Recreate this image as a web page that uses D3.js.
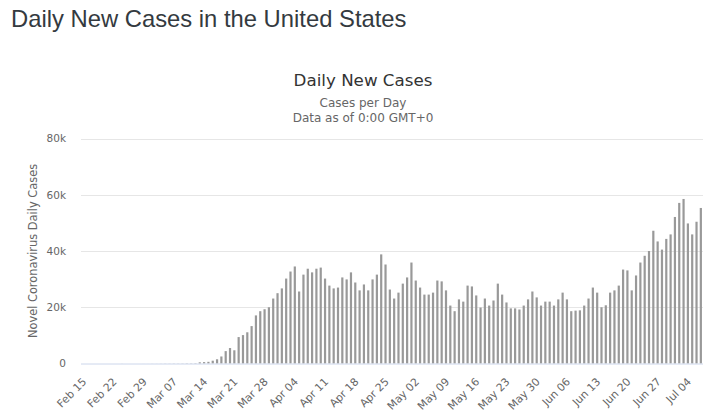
<!DOCTYPE html>
<html>
<head>
<meta charset="utf-8">
<script src="https://cdn.jsdelivr.net/npm/d3@7"></script>
<style>
  html, body { margin: 0; padding: 0; background: #fff; }
  svg { display: block; }
</style>
</head>
<body>
<svg id="chart" width="720" height="418"></svg>
<script>
// ---- data ----
const startDate = "2020-02-15";
const endDate = "2020-07-07";
const dailyCases = [
  0,0,0,0,0,0,1,0,0,18,0,0,0,0,
  8,
  6,23,20,31,48,45,60,56,65,96,92,122,
  420,500,600,1000,
  1500,2500,4400,5500,4700,9400,10100,11100,13300,17100,
  18600,19300,20000,23100,25000,26700,30200,32700,34500,25600,
  31600,33700,32400,33700,34100,30200,27700,26700,27000,30600,
  29900,32400,28800,26000,28100,26000,29900,31600,38800,35200,
  26300,23100,25200,28400,30600,35900,29500,27000,24500,24500,
  25200,29500,29200,26000,20600,18600,22800,22000,27700,27400,
  24200,19900,23100,20600,22400,28400,24500,21700,19600,19600,
  19200,20600,22800,25600,23500,20600,22000,22000,20600,22800,
  25200,22800,18600,18800,18900,20600,23100,27000,25200,
  20000,20700,25200,26000,27700,33400,33100,26000,31300,35900,
  38300,40000,47200,43400,40500,44300,45900,52100,57100,58500,
  49800,45900,50400,55300
];
const xTickLabels = ["Feb 15","Feb 22","Feb 29","Mar 07","Mar 14","Mar 21","Mar 28",
  "Apr 04","Apr 11","Apr 18","Apr 25","May 02","May 09","May 16","May 23","May 30",
  "Jun 06","Jun 13","Jun 20","Jun 27","Jul 04"];
const yTicks = [0, 20000, 40000, 60000, 80000];

const fmt = d3.utcFormat("%b %d");
const categories = d3.utcDay.range(new Date(startDate + "T00:00:00Z"),
  d3.utcDay.offset(new Date(endDate + "T00:00:00Z"), 1)).map(fmt);

// ---- layout ----
const svg = d3.select("#chart");
const plot = { left: 81, right: 703, top: 138.5, bottom: 363.5 };
const chartFont = "'DejaVu Sans', 'Lucida Grande', sans-serif";

const x = d3.scaleBand().domain(categories).range([plot.left, plot.right]).padding(0);
const y = d3.scaleLinear().domain([0, 80000]).range([plot.bottom, plot.top]);

// page title
svg.append("text")
  .attr("x", 11).attr("y", 27)
  .attr("font-family", "'Liberation Sans', Arial, sans-serif")
  .attr("font-size", 23.8)
  .attr("fill", "#343a40")
  .text("Daily New Cases in the United States");

// chart title & subtitles
const cx = 363;
svg.append("text").attr("x", cx).attr("y", 86).attr("text-anchor", "middle")
  .attr("font-family", chartFont).attr("font-size", 16.7).attr("fill", "#333")
  .text("Daily New Cases");
svg.append("text").attr("x", cx).attr("y", 107).attr("text-anchor", "middle")
  .attr("font-family", chartFont).attr("font-size", 12).attr("fill", "#666")
  .text("Cases per Day");
svg.append("text").attr("x", cx).attr("y", 122).attr("text-anchor", "middle")
  .attr("font-family", chartFont).attr("font-size", 12).attr("fill", "#666")
  .text("Data as of 0:00 GMT+0");

// gridlines
svg.append("g").selectAll("line").data(yTicks.filter(d => d > 0)).join("line")
  .attr("x1", plot.left).attr("x2", plot.right)
  .attr("y1", d => Math.round(y(d)) + 0.5).attr("y2", d => Math.round(y(d)) + 0.5)
  .attr("stroke", "#e6e6e6").attr("stroke-width", 1);

// y axis labels
const yAxis = d3.axisLeft(y).tickValues(yTicks)
  .tickFormat(d => d === 0 ? "0" : (d / 1000) + "k").tickSize(0).tickPadding(0);
const yg = svg.append("g").attr("transform", "translate(66,0)").call(yAxis);
yg.select(".domain").remove();
yg.selectAll("text").attr("font-family", chartFont).attr("font-size", 10.5)
  .attr("fill", "#666").attr("dy", "0.32em");

// y axis title
svg.append("text")
  .attr("transform", `translate(37,${(plot.top + plot.bottom) / 2}) rotate(-90)`)
  .attr("text-anchor", "middle")
  .attr("font-family", chartFont).attr("font-size", 11.4).attr("fill", "#666")
  .text("Novel Coronavirus Daily Cases");

// bars
const barW = 2.2;
svg.append("g").selectAll("rect").data(dailyCases).join("rect")
  .attr("x", (d, i) => x(categories[i]) + x.bandwidth() / 2 - barW / 2)
  .attr("width", barW)
  .attr("y", d => y(d))
  .attr("height", d => plot.bottom - y(d))
  .attr("fill", "#999");

// x axis line
svg.append("line")
  .attr("x1", plot.left).attr("x2", plot.right)
  .attr("y1", plot.bottom + 0.5).attr("y2", plot.bottom + 0.5)
  .attr("stroke", "#ccd6eb").attr("stroke-width", 1);

// x axis labels
const xAxis = d3.axisBottom(x).tickValues(xTickLabels).tickSize(0).tickPadding(0);
const xg = svg.append("g").attr("transform", `translate(0,${plot.bottom})`).call(xAxis);
xg.select(".domain").remove();
xg.selectAll("text")
  .attr("font-family", chartFont).attr("font-size", 10.8).attr("fill", "#666")
  .attr("text-anchor", "end")
  .attr("dy", null).attr("y", 0)
  .attr("transform", "translate(4,19) rotate(-45)");
</script>
</body>
</html>
